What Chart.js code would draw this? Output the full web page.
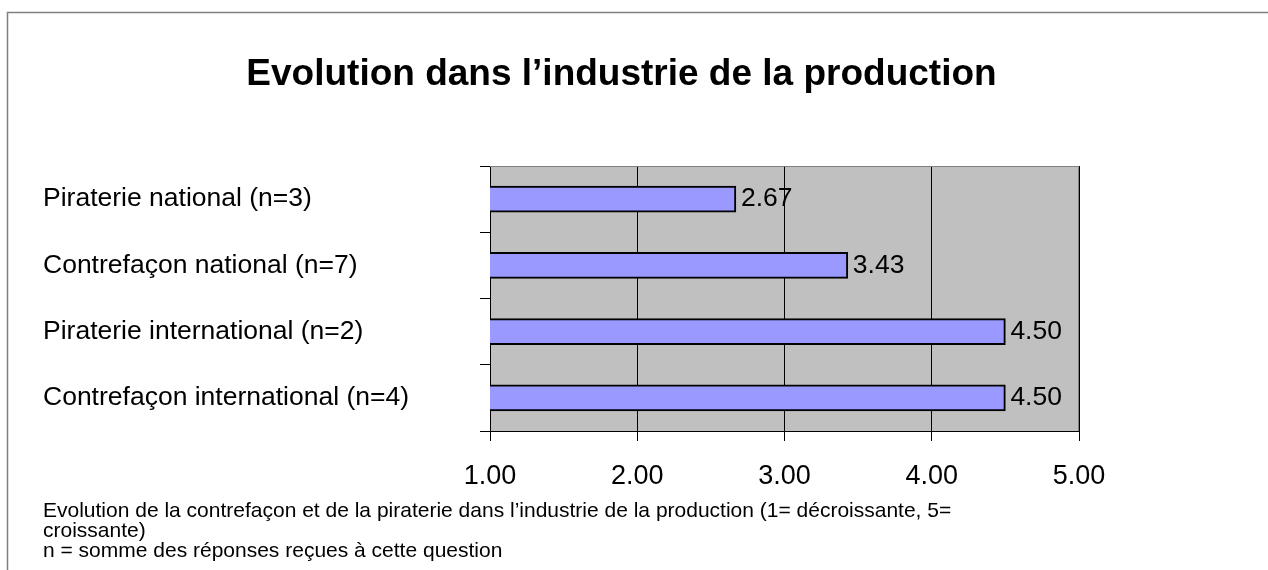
<!DOCTYPE html>
<html>
<head>
<meta charset="utf-8">
<script src="https://cdn.jsdelivr.net/npm/chart.js@4.4.1/dist/chart.umd.min.js"></script>
<style>
    body { margin: 0; background: #fff; font-family: Arial, "Liberation Sans", sans-serif; }
    #wrap { position: relative; width: 1268px; height: 570px; overflow: hidden; }
    #chart { position: absolute; left: 0; top: 0; }
    .title { position: absolute; left: 0; width: 1243px; top: 54px; text-align: center;
             font-weight: bold; font-size: 37px; line-height: 37px; color: #000; }
    .note { position: absolute; left: 43px; font-size: 21px; line-height: 20px; white-space: nowrap; color: #000; }
</style>
</head>
<body>
<div id="wrap">
    <canvas id="chart" width="1268" height="570"></canvas>
    <div class="title" id="title"></div>
    <div id="notes"></div>
</div>
<script>
// donnees
const titre = "Evolution dans l\u2019industrie de la production";
const categories = [
    "Piraterie national (n=3)",
    "Contrefaçon national (n=7)",
    "Piraterie international (n=2)",
    "Contrefaçon international (n=4)"
];
const moyennes = [2.67, 3.43, 4.50, 4.50];
const echelle = [1, 2, 3, 4, 5];
const notes = [
    "Evolution de la contrefaçon et de la piraterie dans l\u2019industrie de la production (1= décroissante, 5=",
    "croissante)",
    "n = somme des réponses reçues à cette question"
];

document.getElementById('title').textContent = titre;
const notesBox = document.getElementById('notes');
notes.forEach((txt, i) => {
    const d = document.createElement('div');
    d.className = 'note';
    d.style.top = (500 + i * 20) + 'px';
    d.textContent = txt;
    notesBox.appendChild(d);
});

const FONT = "Arial, 'Liberation Sans', sans-serif";

// fond gris, cadre exterieur, valeurs au bout des barres
const decor = {
    id: 'decor',
    beforeDraw(chart) {
        const { ctx, chartArea: a } = chart;
        ctx.save();
        ctx.fillStyle = '#C0C0C0';
        ctx.fillRect(a.left, a.top, a.right - a.left, a.bottom - a.top);
        ctx.strokeStyle = '#808080';
        ctx.lineWidth = 1.5;
        ctx.beginPath();
        ctx.moveTo(7.5, 570);
        ctx.lineTo(7.5, 12.5);
        ctx.lineTo(1268, 12.5);
        ctx.stroke();
        ctx.restore();
    },
    afterDatasetsDraw(chart) {
        const { ctx, chartArea: a } = chart;
        ctx.save();
        ctx.strokeStyle = '#808080';
        ctx.lineWidth = 1;
        ctx.beginPath();
        ctx.moveTo(a.left, a.top + 0.5);
        ctx.lineTo(a.right - 0.5, a.top + 0.5);
        ctx.lineTo(a.right - 0.5, a.bottom);
        ctx.stroke();

        ctx.fillStyle = '#000';
        ctx.font = '26.5px ' + FONT;
        ctx.textAlign = 'left';
        ctx.textBaseline = 'middle';
        chart.getDatasetMeta(0).data.forEach((bar, i) => {
            ctx.fillText(moyennes[i].toFixed(2), bar.x + 5, bar.y);
        });
        ctx.restore();
    }
};

new Chart(document.getElementById('chart'), {
    type: 'bar',
    data: {
        labels: categories,
        datasets: [{
            data: moyennes,
            backgroundColor: '#9999FF',
            borderColor: '#000',
            borderWidth: 2,
            borderSkipped: false,
            barThickness: 26
        }]
    },
    options: {
        indexAxis: 'y',
        responsive: false,
        animation: false,
        layout: { padding: { left: 43, top: 166, right: 189, bottom: 79 } },
        plugins: { legend: { display: false }, tooltip: { enabled: false } },
        scales: {
            x: {
                min: echelle[0],
                max: echelle[echelle.length - 1],
                afterBuildTicks: s => { s.ticks = echelle.map(v => ({ value: v })); },
                afterFit: s => { s.height = 60; },
                grid: { color: '#000', lineWidth: 1, tickLength: 10, tickColor: '#000' },
                border: { color: '#000', width: 1 },
                ticks: {
                    color: '#000',
                    font: { family: FONT, size: 27 },
                    padding: 19,
                    maxRotation: 0,
                    callback: v => Number(v).toFixed(2)
                }
            },
            y: {
                afterFit: s => { s.width = 447; },
                grid: { drawOnChartArea: false, tickLength: 10, color: '#000' },
                border: { color: '#000', width: 1 },
                ticks: {
                    color: '#000',
                    font: { family: FONT, size: 26.5, lineHeight: 1.35 },
                    crossAlign: 'far'
                }
            }
        }
    },
    plugins: [decor]
});
</script>
</body>
</html>
